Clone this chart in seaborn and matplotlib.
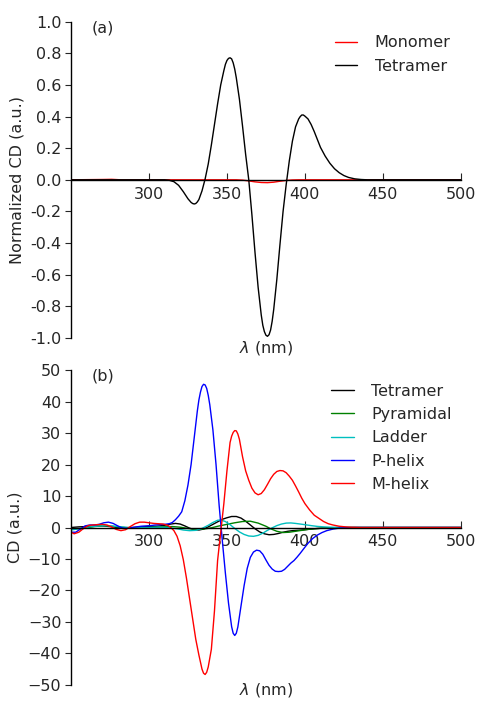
import pandas as pd
import matplotlib
matplotlib.use("Agg")
import matplotlib.pyplot as plt
import matplotlib.ticker as mticker
import seaborn as sns

sns.set_style("ticks")
plt.rcParams['font.family'] = ['DejaVu Sans']

# ---------------- data ----------------
# panel (a): normalized CD
tet_a_nm = [250, 300, 310, 313, 316, 319, 322, 325, 327, 328, 329, 330, 331, 332, 334, 336,
            338, 340, 342, 344, 346, 348, 349, 350, 351, 352, 353, 354, 355, 356, 358, 360,
            362, 364, 366, 368, 370, 372, 373, 374, 375, 376, 377, 378, 379, 380, 382, 384,
            386, 388, 390, 392, 394, 396, 397, 398, 399, 400, 402, 404, 406, 408, 410, 413,
            416, 419, 422, 425, 428, 432, 436, 440, 460, 500]
tet_a_cd = [0, 0, 0, -0.003, -0.012, -0.035, -0.075, -0.12, -0.143, -0.15, -0.153, -0.15,
            -0.14, -0.125, -0.07, 0.005, 0.10, 0.22, 0.35, 0.48, 0.60, 0.69, 0.73, 0.755,
            0.768, 0.772, 0.765, 0.74, 0.70, 0.645, 0.51, 0.34, 0.16, 0.0, -0.22, -0.46,
            -0.68, -0.855, -0.92, -0.96, -0.983, -0.99, -0.98, -0.95, -0.895, -0.82, -0.63,
            -0.41, -0.20, -0.03, 0.12, 0.245, 0.335, 0.385, 0.40, 0.41, 0.41, 0.403, 0.385,
            0.35, 0.305, 0.255, 0.205, 0.15, 0.105, 0.07, 0.045, 0.027, 0.015, 0.006, 0.002,
            0, 0, 0]

mono_nm = [250, 270, 276, 282, 356, 360, 364, 368, 372, 376, 380, 384, 388, 392, 396, 500]
mono_cd = [0, 0.002, 0.003, 0, 0, -0.002, -0.007, -0.013, -0.017, -0.018, -0.015, -0.009,
           -0.004, -0.001, 0, 0]

# panel (b): CD
tet_b_nm = [250, 255, 260, 265, 270, 275, 280, 285, 290, 295, 300, 305, 310, 314, 317, 320,
            323, 326, 329, 332, 335, 338, 341, 344, 347, 350, 353, 356, 359, 362, 365, 368,
            371, 374, 377, 380, 383, 386, 389, 392, 395, 398, 402, 406, 410, 415, 420, 430, 500]
tet_b_cd = [0, 0.2, 0.3, 0.4, 0.5, 0.3, 0, -0.2, 0, 0.2, 0.3, 0.4, 0.7, 1.1, 1.3, 1.1,
            0.5, -0.2, -0.7, -0.8, -0.5, 0.2, 1.0, 1.8, 2.6, 3.1, 3.5, 3.5, 3.0, 2.0, 0.8,
            -0.4, -1.4, -2.0, -2.3, -2.2, -1.9, -1.5, -1.2, -1.0, -0.9, -0.8, -0.6, -0.4,
            -0.25, -0.1, -0.04, 0, 0]

pyr_nm = [250, 258, 265, 272, 278, 285, 292, 300, 308, 315, 320, 325, 330, 335, 340, 345,
          350, 355, 360, 365, 370, 375, 378, 382, 386, 390, 394, 398, 402, 406, 410, 415,
          420, 430, 500]
pyr_cd = [-0.5, -0.3, 0.3, 0.6, 0.3, 0, -0.1, 0, 0.2, 0.3, 0.1, -0.3, -0.6, -0.5, -0.1,
          0.5, 1.0, 1.5, 1.9, 2.0, 1.4, 0.4, -0.4, -1.2, -1.6, -1.5, -1.2, -0.9, -0.6,
          -0.4, -0.25, -0.12, -0.05, 0, 0]

lad_nm = [250, 256, 262, 268, 274, 280, 286, 292, 300, 306, 312, 318, 322, 326, 330, 334,
          338, 341, 344, 346, 349, 352, 355, 358, 361, 364, 367, 370, 373, 376, 379, 382,
          385, 388, 391, 394, 397, 400, 404, 408, 412, 416, 420, 430, 500]
lad_cd = [-0.8, -0.3, 0.2, 0.5, 0.6, 0.3, 0, -0.1, 0, 0.1, 0.0, -0.4, -0.8, -1.0, -0.9,
          -0.3, 0.7, 1.6, 2.3, 2.4, 1.9, 0.9, -0.3, -1.4, -2.2, -2.7, -2.8, -2.5, -1.8,
          -0.9, -0.1, 0.6, 1.1, 1.4, 1.45, 1.3, 1.1, 0.9, 0.6, 0.35, 0.2, 0.1, 0.05, 0, 0]

ph_nm = [250, 253, 256, 259, 262, 265, 268, 271, 274, 277, 280, 283, 286, 289, 292, 295,
         298, 301, 304, 307, 310, 313, 315, 317, 319, 321, 323, 325, 327, 329, 331, 332,
         333, 334, 335, 336, 337, 338, 339, 341, 343, 345, 347, 349, 351, 353, 354, 355,
         356, 357, 359, 361, 363, 365, 367, 369, 371, 373, 375, 377, 379, 381, 383, 385,
         387, 389, 391, 393, 395, 397, 399, 402, 405, 408, 411, 414, 418, 422, 426, 432, 500]
ph_cd = [-1.5, -1.5, -0.5, 0.5, 0.8, 0.8, 1.0, 1.5, 1.7, 1.3, 0.5, -0.2, -0.3, 0.0, 0.2,
         0.4, 0.5, 0.6, 0.8, 0.9, 1.0, 1.2, 1.6, 2.5, 3.6, 5.0, 8.5, 13.5, 20, 28.5, 37.0,
         40.5, 43, 44.8, 45.5, 45.3, 44.2, 42, 39, 31, 20, 7, -4, -14.5, -24, -31.5, -33.6,
         -34.3, -33.6, -31.6, -25, -18.5, -13, -9.5, -7.8, -7.2, -7.4, -8.5, -10.3, -12.0,
         -13.2, -13.9, -14.0, -13.9, -13.3, -12.3, -11.3, -10.5, -9.4, -8.2, -6.9, -5.0,
         -3.5, -2.4, -1.6, -1.0, -0.5, -0.2, -0.08, 0, 0]

mh_nm = [250, 252, 255, 258, 261, 264, 267, 270, 273, 276, 279, 282, 285, 288, 291, 294,
         297, 300, 303, 306, 309, 312, 314, 316, 318, 320, 322, 324, 326, 328, 330, 332,
         334, 335, 336, 337, 338, 340, 342, 344, 346, 348, 350, 352, 353, 354, 355, 356,
         357, 358, 360, 362, 364, 366, 368, 370, 372, 374, 376, 378, 380, 382, 384, 386,
         388, 390, 392, 394, 396, 398, 400, 403, 406, 409, 412, 415, 418, 422, 426, 430,
         436, 500]
mh_cd = [-1.5, -2.0, -1.5, -0.3, 0.6, 0.8, 0.9, 1.0, 0.8, 0.2, -0.6, -1.0, -0.7, 0.3,
         1.2, 1.7, 1.7, 1.5, 1.3, 1.2, 1.1, 0.7, 0.0, -1.0, -2.8, -5.8, -10.2, -16, -22.5,
         -29, -35.5, -40.5, -45, -46.3, -46.7, -46, -44.3, -38.7, -26.5, -10.5, -1.5, 7.5,
         18, 27, 29.0, 30.2, 30.8, 30.7, 29.7, 28.0, 22.5, 18, 15, 12.5, 11, 10.4, 10.8,
         12, 13.7, 15.5, 16.9, 17.8, 18.1, 18.0, 17.4, 16.3, 15.0, 13.2, 11.3, 9.3, 7.6,
         5.6, 3.9, 2.9, 1.9, 1.2, 0.8, 0.4, 0.2, 0.08, 0, 0]

xticks = [300, 350, 400, 450, 500]
yticks_a = [-1.0, -0.8, -0.6, -0.4, -0.2, 0.0, 0.2, 0.4, 0.6, 0.8, 1.0]
yticks_b = [-50, -40, -30, -20, -10, 0, 10, 20, 30, 40, 50]


def long_form(series):
    frames = [pd.DataFrame({'nm': x, 'cd': y, 'name': n}) for n, x, y in series]
    return pd.concat(frames, ignore_index=True)


df_a = long_form([('Monomer', mono_nm, mono_cd), ('Tetramer', tet_a_nm, tet_a_cd)])
df_b = long_form([('Tetramer', tet_b_nm, tet_b_cd), ('Pyramidal', pyr_nm, pyr_cd),
                  ('Ladder', lad_nm, lad_cd), ('P-helix', ph_nm, ph_cd),
                  ('M-helix', mh_nm, mh_cd)])

pal_a = {'Monomer': '#ff0000', 'Tetramer': '#000000'}
pal_b = {'Tetramer': '#000000', 'Pyramidal': '#008000', 'Ladder': '#00bfbf',
         'P-helix': '#0000ff', 'M-helix': '#ff0000'}

FS = 11.5

fig = plt.figure(figsize=(4.8, 7.01), dpi=100)
ax1 = fig.add_axes([0.148, 0.518, 0.812, 0.451])
ax2 = fig.add_axes([0.148, 0.023, 0.812, 0.449])


def style_axes(ax, ylim, yticks, ylabel, tag, leg_x, xlab_y):
    ax.set_xlim(250, 500)
    ax.set_ylim(*ylim)
    ax.set_xticks(xticks)
    ax.set_yticks(yticks)
    ax.spines['top'].set_visible(False)
    ax.spines['right'].set_visible(False)
    ax.spines['bottom'].set_position(('data', 0))
    for s in ('left', 'bottom'):
        ax.spines[s].set_linewidth(1.0)
        ax.spines[s].set_color('black')
        ax.spines[s].set_zorder(3)
    ax.tick_params(axis='x', direction='in', length=5, width=0.8, labelsize=FS, pad=5)
    ax.tick_params(axis='y', direction='out', length=4, width=0.8, labelsize=FS, pad=3)
    ax.set_xlabel(r'$\lambda$ (nm)', fontsize=FS)
    ax.xaxis.set_label_coords(0.5, xlab_y)
    ax.set_ylabel(ylabel, fontsize=FS)
    ax.text(0.054, 1.005, tag, transform=ax.transAxes, fontsize=FS, va='top', ha='left')
    leg = ax.legend(loc='upper left', bbox_to_anchor=(leg_x, 0.957), frameon=False,
                    fontsize=FS, handlelength=1.4, handletextpad=1.1, borderpad=0,
                    borderaxespad=0, labelspacing=0.52)
    for line in leg.get_lines():
        line.set_linewidth(1.0)


sns.lineplot(data=df_a, x='nm', y='cd', hue='name', hue_order=['Monomer', 'Tetramer'],
             palette=pal_a, estimator=None, sort=False, linewidth=1.0, ax=ax1)
style_axes(ax1, (-1.0, 1.0), yticks_a, 'Normalized CD (a.u.)', '(a)', 0.677, -0.002)
ax1.yaxis.set_major_formatter(mticker.FormatStrFormatter('%.1f'))

sns.lineplot(data=df_b, x='nm', y='cd', hue='name',
             hue_order=['Tetramer', 'Pyramidal', 'Ladder', 'P-helix', 'M-helix'],
             palette=pal_b, estimator=None, sort=False, linewidth=1.0, ax=ax2)
style_axes(ax2, (-50, 50), yticks_b, 'CD (a.u.)', '(b)', 0.668, 0.012)

fig.savefig('out.png', dpi=100)
